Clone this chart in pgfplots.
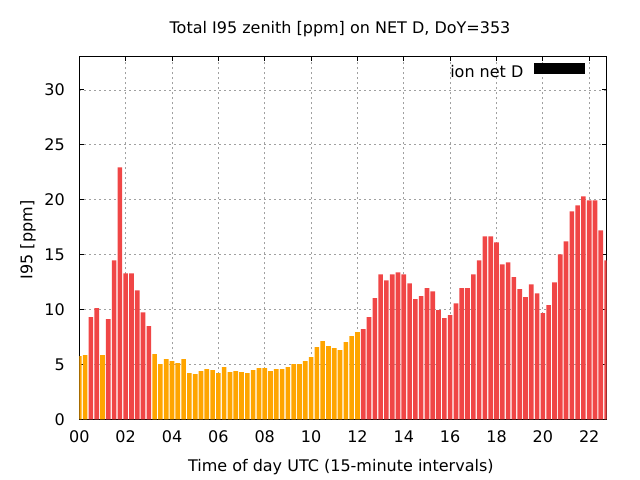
\documentclass[border=0pt]{standalone}
\usepackage{fontspec}
\setmainfont{DejaVu Sans}
\usepackage{pgfplots}
\pgfplotsset{compat=1.18}
\definecolor{barred}{RGB}{240,70,70}
\definecolor{barorange}{RGB}{255,165,0}
\definecolor{gridgray}{RGB}{160,160,160}
\pgfplotsset{
  layers/grid below/.define layer set={axis background,axis grid,main,axis ticks,axis lines,axis tick labels,axis descriptions,axis foreground}{},
}
\begin{document}
\begin{tikzpicture}[font=\fontsize{16bp}{19bp}\selectfont]
\begin{axis}[
  set layers=grid below,
  at={(79.3bp,60.7bp)}, anchor=south west,
  scale only axis, width=527.3bp, height=362.3bp,
  xmin=0, xmax=22.75, ymin=0, ymax=33,
  xtick={0,2,...,22},
  xticklabels={00,02,04,06,08,10,12,14,16,18,20,22},
  ytick={0,5,...,30},
  /pgf/number format/assume math mode=true,
  tick label style={font=\fontsize{16bp}{19bp}\selectfont},
  xticklabel style={anchor=base, yshift=-23.4bp, inner sep=0pt},
  yticklabel style={anchor=east, xshift=-14.3bp, inner sep=0pt},
  tick align=inside, major tick length=4.5bp,
  every tick/.style={black, line width=1bp},
  axis line style={line width=1bp},
  grid=major,
  major grid style={gridgray, line width=0.8bp, dash pattern=on 2bp off 3bp},
  legend plot pos=right,
  legend style={at={(0.959,0.9615)}, anchor=east, draw=none, fill=none,
    inner sep=0pt, nodes={inner sep=0pt}, /tikz/column sep=11bp,
    font=\fontsize{16bp}{19bp}\selectfont},
]
\addplot[ybar, bar width=0.2, bar shift=0pt, draw=none, fill=barorange, forget plot] coordinates {
(0,5.75)(0.25,5.85)(1,5.85)(3.25,5.94)(3.5,5.03)(3.75,5.48)(4,5.3)(4.25,5.12)
(4.5,5.48)(4.75,4.21)(5,4.12)(5.25,4.39)(5.5,4.57)(5.75,4.48)(6,4.21)(6.25,4.75)
(6.5,4.3)(6.75,4.39)(7,4.3)(7.25,4.21)(7.5,4.48)(7.75,4.66)(8,4.66)(8.25,4.39)
(8.5,4.57)(8.75,4.57)(9,4.75)(9.25,5.03)(9.5,5.03)(9.75,5.3)(10,5.66)(10.25,6.57)
(10.5,7.12)(10.75,6.66)(11,6.48)(11.25,6.3)(11.5,7.03)(11.75,7.57)(12,7.94)
};
\addplot[ybar, bar width=0.2, bar shift=0pt, draw=none, fill=barred, forget plot] coordinates {
(0.5,9.3)(0.75,10.12)(1.25,9.12)(1.5,14.48)(1.75,22.94)(2,13.3)(2.25,13.3)
(2.5,11.75)(2.75,9.75)(3,8.48)
(12.25,8.21)(12.5,9.3)(12.75,11.03)(13,13.21)(13.25,12.66)(13.5,13.21)(13.75,13.39)
(14,13.21)(14.25,12.39)(14.5,10.94)(14.75,11.21)(15,11.94)(15.25,11.66)(15.5,9.94)
(15.75,9.21)(16,9.48)(16.25,10.57)(16.5,11.94)(16.75,11.94)(17,13.21)(17.25,14.48)
(17.5,16.66)(17.75,16.66)(18,16.12)(18.25,14.12)(18.5,14.3)(18.75,12.94)(19,11.85)
(19.25,11.12)(19.5,12.3)(19.75,11.48)(20,9.66)(20.25,10.39)(20.5,12.48)(20.75,15.03)
(21,16.21)(21.25,18.94)(21.5,19.48)(21.75,20.3)(22,19.94)(22.25,19.94)(22.5,17.21)
(22.75,14.48)
};
\addlegendimage{legend image code/.code={\fill[black] (0bp,-1.1bp) rectangle (50bp,8.5bp);}}
\addlegendentry{ion net D}
\end{axis}
\node[anchor=base] at (340bp,446.7bp) {Total I95 zenith [ppm] on NET D, DoY=353};
\node[anchor=base] at (340.8bp,8.7bp) {Time of day UTC (15-minute intervals)};
\node[anchor=base, rotate=90] at (32.3bp,240bp) {I95 [ppm]};
\path (0,0) rectangle (640bp,480bp);
\end{tikzpicture}
\end{document}
